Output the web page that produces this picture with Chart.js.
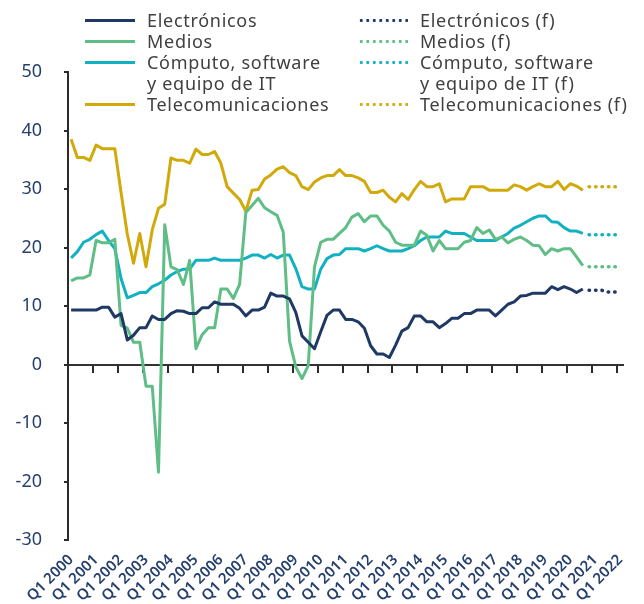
<!DOCTYPE html>
<html lang="es">
<head>
<meta charset="UTF-8">
<title>Crecimiento por sector</title>
<script src="https://cdn.jsdelivr.net/npm/chart.js"></script>
<style>
  html, body { margin: 0; padding: 0; background: #fff; }
  .wrap { position: relative; width: 644px; height: 604px; }
  #legend { position: absolute; top: 10px; left: 0; width: 644px; font-family: "Noto Sans", sans-serif; font-size: 18px; letter-spacing: 0.7px; color: #404040; }
  .col { position: absolute; top: 0; }
  .item { display: flex; align-items: flex-start; line-height: 21px; }
  .item span.txt { white-space: pre-line; }
  .sample { width: 50px; height: 21px; margin-right: 12px; flex: none; position: relative; }
  .sample i { position: absolute; left: 0; right: 0; top: 9px; height: 3px; display: block; }
</style>
</head>
<body>
<div class="wrap">
  <canvas id="chart" width="644" height="604"></canvas>
  <div id="legend"></div>
</div>
<script>
// quarters Q1 2000 .. Q1 2022
const years = [2000, 2001, 2002, 2003, 2004, 2005, 2006, 2007, 2008, 2009, 2010,
  2011, 2012, 2013, 2014, 2015, 2016, 2017, 2018, 2019, 2020, 2021, 2022];
const labels = [];
years.forEach(y => {
  for (let q = 1; q <= 4; q++) {
    if (y === 2022 && q > 1) break;
    labels.push('Q' + q + ' ' + y);
  }
});

// observed, Q1 2000 .. Q3 2020
const electronicos = [9.3, 9.3, 9.3, 9.3, 9.3, 9.8, 9.8, 8.1, 8.7, 4.2,
  5.0, 6.3, 6.3, 8.3, 7.7, 7.7, 8.7, 9.2, 9.1, 8.7,
  8.7, 9.7, 9.7, 10.7, 10.3, 10.3, 10.3, 9.6, 8.3, 9.3,
  9.3, 9.8, 12.2, 11.7, 11.7, 11.2, 8.9, 4.9, 3.8, 2.7,
  5.6, 8.4, 9.3, 9.3, 7.7, 7.7, 7.3, 6.2, 3.2, 1.8,
  1.8, 1.2, 3.3, 5.7, 6.3, 8.3, 8.3, 7.3, 7.3, 6.3,
  7.0, 7.9, 7.9, 8.7, 8.7, 9.3, 9.3, 9.3, 8.3, 9.3,
  10.3, 10.7, 11.7, 11.8, 12.2, 12.2, 12.2, 13.3, 12.8, 13.3,
  12.9, 12.3, 12.9];
const medios = [14.3, 14.8, 14.8, 15.3, 21.2, 20.8, 20.8, 21.4, 6.7, 6.2,
  3.8, 3.8, -3.7, -3.7, -18.4, 23.9, 16.7, 16.2, 13.7, 17.8,
  2.7, 5.1, 6.3, 6.3, 12.9, 12.9, 11.3, 13.7, 26.0, 27.2,
  28.4, 26.8, 26.1, 25.5, 22.6, 4.0, -0.4, -2.4, -0.2, 16.7,
  20.9, 21.4, 21.4, 22.4, 23.4, 25.2, 25.8, 24.4, 25.4, 25.4,
  23.8, 22.8, 20.9, 20.4, 20.4, 20.4, 22.8, 22.1, 19.4, 21.2,
  19.8, 19.8, 19.8, 20.9, 21.2, 23.4, 22.4, 23.0, 21.4, 21.8,
  20.8, 21.4, 21.8, 21.2, 20.4, 20.3, 18.8, 19.8, 19.4, 19.8,
  19.8, 18.4, 16.9];
const computo = [18.2, 19.3, 20.9, 21.4, 22.2, 22.8, 21.2, 19.8, 14.7, 11.4,
  11.8, 12.3, 12.3, 13.3, 13.8, 14.4, 15.3, 15.9, 16.3, 16.3,
  17.8, 17.8, 17.8, 18.2, 17.8, 17.8, 17.8, 17.8, 18.2, 18.7,
  18.7, 18.2, 18.8, 18.2, 18.7, 18.7, 16.4, 13.3, 12.9, 12.9,
  16.3, 18.1, 18.7, 18.8, 19.8, 19.8, 19.8, 19.4, 19.8, 20.3,
  19.8, 19.4, 19.4, 19.4, 19.8, 20.3, 21.2, 21.8, 21.8, 21.8,
  22.8, 22.4, 22.4, 22.4, 21.8, 21.2, 21.2, 21.2, 21.2, 21.8,
  22.4, 23.3, 23.8, 24.4, 25.0, 25.4, 25.4, 24.4, 24.3, 23.4,
  22.8, 22.8, 22.4];
const telecom = [38.5, 35.4, 35.4, 34.9, 37.5, 36.9, 36.9, 36.9, 29.4, 22.3,
  17.3, 22.4, 16.7, 23.0, 26.7, 27.4, 35.3, 34.9, 34.9, 34.4,
  36.8, 35.9, 35.9, 36.4, 34.4, 30.4, 29.3, 28.2, 26.2, 29.8,
  29.9, 31.7, 32.4, 33.4, 33.8, 32.8, 32.3, 30.4, 29.9, 31.2,
  31.9, 32.3, 32.3, 33.3, 32.3, 32.3, 31.9, 31.3, 29.4, 29.4,
  29.8, 28.6, 27.8, 29.2, 28.2, 29.9, 31.3, 30.4, 30.4, 30.9,
  27.8, 28.3, 28.3, 28.3, 30.4, 30.4, 30.4, 29.8, 29.8, 29.8,
  29.8, 30.7, 30.4, 29.8, 30.4, 30.9, 30.4, 30.4, 31.3, 29.9,
  30.9, 30.5, 29.8];

// forecast, Q4 2020 .. Q1 2022
const forecastStart = 83;
const electronicosF = [12.7, 12.7, 12.7, 12.4, 12.4, 12.4];
const mediosF = [16.7, 16.7, 16.7, 16.7, 16.7, 16.7];
const computoF = [22.2, 22.2, 22.2, 22.2, 22.2, 22.2];
const telecomF = [30.4, 30.4, 30.4, 30.4, 30.4, 30.4];

const yTicks = [50, 40, 30, 20, 10, 0, -10, -20, -30];

const navy = '#1f3864';
const green = '#5fbd86';
const cyan = '#12b1c2';
const gold = '#d2a90b';
const textNavy = '#253f6e';

function pad(arr) {
  return Array(forecastStart).fill(null).concat(arr);
}

function solid(label, data, color) {
  return { label: label, data: data, borderColor: color, backgroundColor: color,
    borderWidth: 3, pointRadius: 0, tension: 0, borderJoinStyle: 'round', fill: false };
}
function dotted(label, data, color) {
  return { label: label, data: pad(data), borderColor: color, backgroundColor: color,
    borderWidth: 3.5, pointRadius: 0, tension: 0, borderCapStyle: 'round',
    borderDash: [0.5, 5.95], fill: false, dotted: true };
}

const ctx = document.getElementById('chart');
const chart = new Chart(ctx, {
  type: 'line',
  data: {
    labels: labels,
    datasets: [
      solid('Electrónicos', electronicos, navy),
      solid('Medios', medios, green),
      solid('Cómputo, software\ny equipo de IT', computo, cyan),
      solid('Telecomunicaciones', telecom, gold),
      dotted('Electrónicos (f)', electronicosF, navy),
      dotted('Medios (f)', mediosF, green),
      dotted('Cómputo, software\ny equipo de IT (f)', computoF, cyan),
      dotted('Telecomunicaciones (f)', telecomF, gold)
    ]
  },
  options: {
    responsive: false,
    devicePixelRatio: 1,
    animation: false,
    layout: { padding: { top: 72, right: 2, left: 0, bottom: 0 } },
    plugins: {
      legend: { display: false },
      tooltip: { enabled: false }
    },
    scales: {
      x: {
        type: 'category',
        offset: true,
        grid: { display: false, drawTicks: false },
        border: { display: false },
        ticks: {
          autoSkip: false,
          maxRotation: 45,
          minRotation: 45,
          padding: 11,
          color: textNavy,
          font: { family: 'Noto Sans', size: 15, weight: '600' },
          callback: function (val, i) {
            return i % 4 === 0 ? this.getLabelForValue(val) : '';
          }
        },
        afterFit: function (scale) { scale.height = 64; }
      },
      x0: {
        type: 'category',
        offset: true,
        position: { y: 0 },
        grid: {
          offset: true,
          drawOnChartArea: false,
          drawTicks: true,
          tickLength: 7,
          lineWidth: 2,
          color: function (c) { return c.index % 4 === 0 ? '#2b2b2b' : 'rgba(0,0,0,0)'; }
        },
        border: { display: true, color: '#333', width: 2 },
        ticks: { display: false, autoSkip: false }
      },
      y: {
        min: -30,
        max: 50,
        afterBuildTicks: function (scale) {
          scale.ticks = yTicks.map(v => ({ value: v }));
        },
        grid: { drawOnChartArea: false, drawTicks: true, tickLength: 4, lineWidth: 2, color: '#2b2b2b' },
        border: { display: true, color: '#2b2b2b', width: 2 },
        ticks: {
          padding: 22,
          color: textNavy,
          font: { family: 'Noto Sans', size: 18 }
        },
        afterFit: function (scale) { scale.width = 68; }
      }
    }
  }
});

// html legend in two columns, solid on the left, forecasts on the right
const legend = document.getElementById('legend');
const cols = [document.createElement('div'), document.createElement('div')];
cols[0].className = 'col'; cols[0].style.left = '85px';
cols[1].className = 'col'; cols[1].style.left = '358px';
chart.data.datasets.forEach(function (ds) {
  const item = document.createElement('div');
  item.className = 'item';
  const s = document.createElement('div');
  s.className = 'sample';
  const line = document.createElement('i');
  if (ds.dotted) {
    line.style.background = 'radial-gradient(circle, ' + ds.borderColor + ' 1.3px, rgba(0,0,0,0) 1.8px) 0 0 / 6.5px 3px repeat-x';
  } else {
    line.style.background = ds.borderColor;
  }
  s.appendChild(line);
  const t = document.createElement('span');
  t.className = 'txt';
  t.textContent = ds.label;
  item.appendChild(s);
  item.appendChild(t);
  cols[ds.dotted ? 1 : 0].appendChild(item);
});
legend.appendChild(cols[0]);
legend.appendChild(cols[1]);
</script>
</body>
</html>
